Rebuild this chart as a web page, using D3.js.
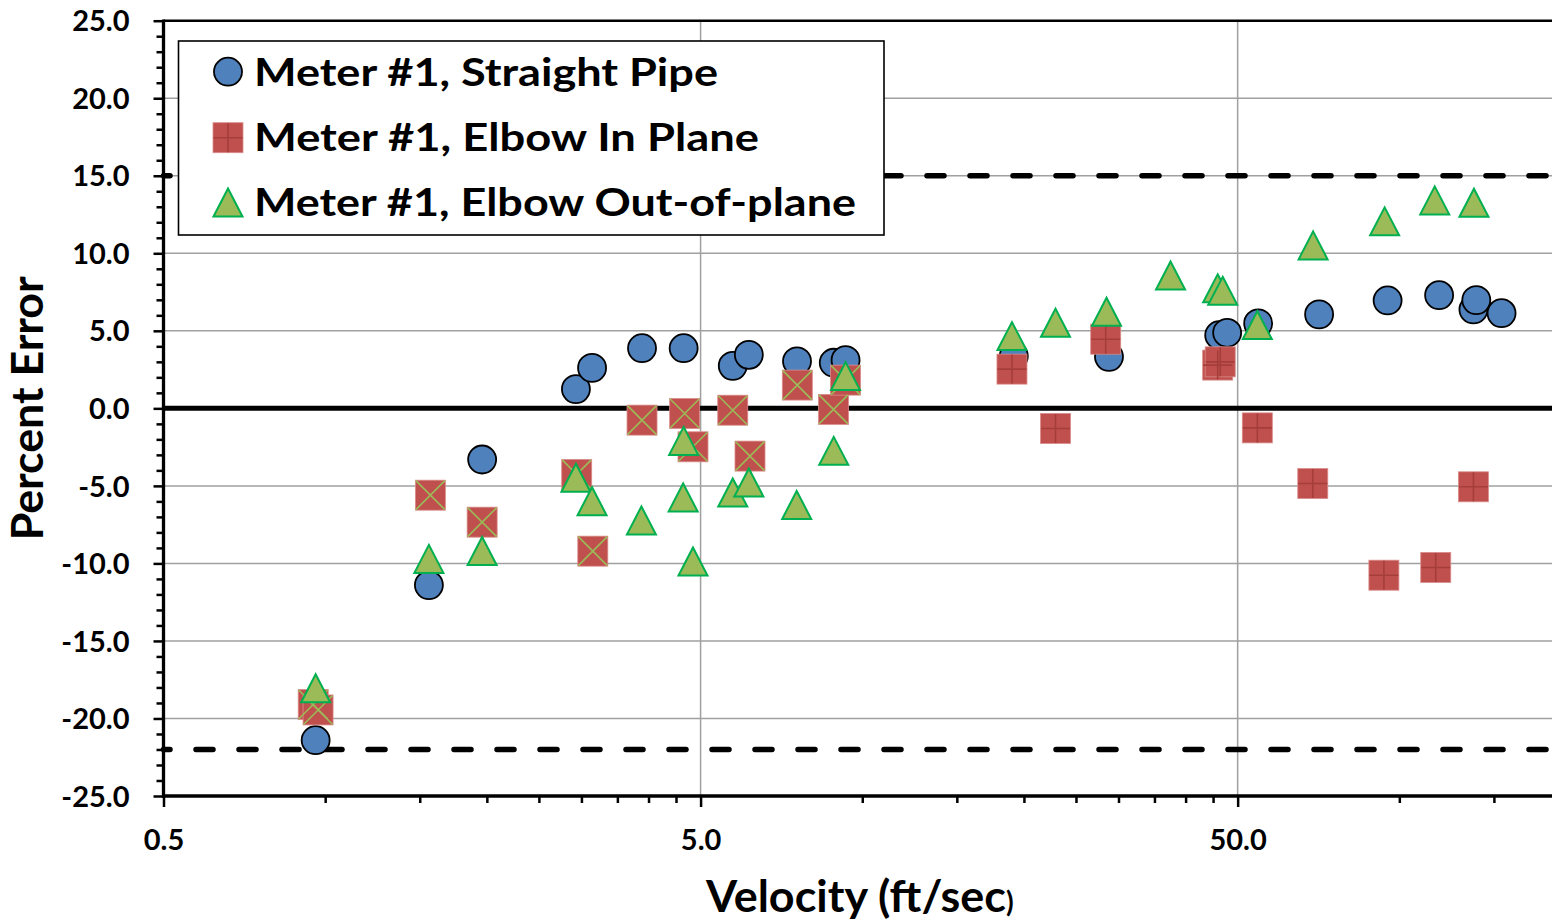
<!DOCTYPE html>
<html>
<head>
<meta charset="utf-8">
<script src="https://cdn.jsdelivr.net/npm/d3@7"></script>
<style>
  html, body { margin: 0; padding: 0; background: #fff; }
  svg { display: block; font-family: Lato, "Open Sans", sans-serif; font-weight: 700; }
</style>
</head>
<body>
<svg id="chart" width="1552" height="921"></svg>
<script>
// ---- Data: velocity (ft/sec) and percent error for each installation ----
const straightPipeVelocity = [0.96, 1.56, 1.96, 2.93, 3.14, 3.89, 4.65, 5.74, 6.15, 7.56, 8.85, 9.31,
                              19.15, 28.8, 46.2, 47.8, 54.6, 70.9, 95.1, 118.6, 137.4, 139.1, 155];
const straightPipeError = [-21.4, -11.4, -3.3, 1.24, 2.61, 3.88, 3.88, 2.74, 3.45, 3.03, 2.94, 3.11,
                           3.37, 3.32, 4.72, 4.87, 5.48, 6.06, 6.96, 7.30, 6.38, 6.98, 6.14];

const inPlaneVelocity = [0.95, 0.97, 1.57, 1.96, 2.94, 3.15, 3.89, 4.67, 4.84, 5.74, 6.18, 7.57, 8.84, 9.31,
                         19.0, 22.9, 28.4, 45.9, 46.4, 54.4, 69.0, 93.6, 116.9, 137.4];
const inPlaneError = [-19.1, -19.45, -5.6, -7.34, -4.26, -9.21, -0.76, -0.33, -2.48, -0.12, -3.08, 1.50, -0.07, 1.82,
                      2.53, -1.30, 4.46, 2.79, 3.0, -1.26, -4.85, -10.76, -10.26, -5.06];

const outOfPlaneVelocity = [0.96, 1.56, 1.96, 2.93, 3.14, 3.88, 4.65, 4.64, 4.84, 5.74, 6.15, 7.55, 8.85, 9.31,
                            19.0, 22.9, 28.5, 37.5, 45.9, 46.9, 54.4, 69.1, 93.9, 116.4, 137.7];
const outOfPlaneError = [-18.05, -9.71, -9.2, -4.48, -5.99, -7.23, -2.10, -5.75, -9.88, -5.43, -4.78, -6.23, -2.74, 2.08,
                         4.66, 5.52, 6.23, 8.57, 7.74, 7.58, 5.37, 10.51, 12.06, 13.41, 13.26];

const seriesNames = ["Meter #1, Straight Pipe", "Meter #1, Elbow In Plane", "Meter #1, Elbow Out-of-plane"];
const yTickValues = [-25, -20, -15, -10, -5, 0, 5, 10, 15, 20, 25];
const xTickValues = [0.5, 5, 50];
const limitLines = [15, -22];
const xTitle = "Velocity (ft/sec";
const yTitle = "Percent Error";

// ---- Layout ----
const W = 1552, H = 921;
const plot = { left: 163.5, top: 20.7, right: 1561, bottom: 796 };
const colors = {
  blue: "#4F81BD", red: "#C0504D", redLine: "#A53E3B",
  green: "#9BBB59", greenEdge: "#00B050", grid: "#A0A0A0"
};
const MS = 30; // marker size

const svg = d3.select("#chart");
svg.append("rect").attr("width", W).attr("height", H).attr("fill", "#fff");

const x = d3.scaleLog().domain([0.5, 200]).range([plot.left, plot.right]);
const y = d3.scaleLinear().domain([-25, 25]).range([plot.bottom, plot.top]);

const zip = (a, b) => a.map((v, i) => ({ v, e: b[i] }));
const straight = zip(straightPipeVelocity, straightPipeError);
const inPlane = zip(inPlaneVelocity, inPlaneError);
const outPlane = zip(outOfPlaneVelocity, outOfPlaneError);

// ---- Gridlines ----
const grid = svg.append("g").attr("stroke", colors.grid).attr("stroke-width", 1.5);
grid.selectAll("line.h").data(yTickValues.filter(v => v !== 0)).join("line")
  .attr("x1", plot.left).attr("x2", plot.right)
  .attr("y1", d => y(d)).attr("y2", d => y(d));
grid.selectAll("line.v").data(xTickValues.filter(v => v > 0.5)).join("line")
  .attr("x1", d => x(d)).attr("x2", d => x(d))
  .attr("y1", plot.top).attr("y2", plot.bottom);

// zero line
svg.append("line")
  .attr("x1", plot.left).attr("x2", plot.right)
  .attr("y1", y(0)).attr("y2", y(0))
  .attr("stroke", "#000").attr("stroke-width", 5);

// acceptance limits
svg.append("g").selectAll("line").data(limitLines).join("line")
  .attr("x1", plot.left).attr("x2", plot.right)
  .attr("y1", d => y(d)).attr("y2", d => y(d))
  .attr("stroke", "#000").attr("stroke-width", 5.5)
  .attr("stroke-linecap", "round")
  .attr("stroke-dasharray", "17,26").attr("stroke-dashoffset", 10.5);

// ---- Axes ----
const fmt = v => (v < 0 ? "-" : "") + Math.abs(v).toFixed(1);
const tickFont = 29;

const yMinor = d3.range(-25, 26, 1).filter(v => v % 5 !== 0);
svg.append("g").attr("transform", `translate(${plot.left},0)`)
  .call(d3.axisLeft(y).tickValues(yMinor).tickSize(7).tickFormat(""))
  .call(g => g.select(".domain").remove())
  .call(g => g.selectAll("line").attr("stroke", "#000").attr("stroke-width", 2.5));
svg.append("g").attr("transform", `translate(${plot.left},0)`)
  .call(d3.axisLeft(y).tickValues(yTickValues).tickSize(10).tickPadding(24).tickFormat(fmt))
  .call(g => g.select(".domain").remove())
  .call(g => g.selectAll("line").attr("stroke", "#000").attr("stroke-width", 2.5))
  .call(g => g.selectAll("text").attr("fill", "#000").attr("dy", "0.35em")
    .attr("font-size", tickFont).attr("font-family", "Lato, sans-serif").attr("font-weight", 700));

const xMinor = [];
xTickValues.forEach(b => { for (let k = 2; k <= 9; k++) if (b * k <= 200) xMinor.push(b * k); });
svg.append("g").attr("transform", `translate(0,${plot.bottom})`)
  .call(d3.axisBottom(x).tickValues(xMinor).tickSize(7).tickFormat(""))
  .call(g => g.select(".domain").remove())
  .call(g => g.selectAll("line").attr("stroke", "#000").attr("stroke-width", 2.5));
svg.append("g").attr("transform", `translate(0,${plot.bottom})`)
  .call(d3.axisBottom(x).tickValues(xTickValues).tickSize(11).tickPadding(22).tickFormat(d => d.toFixed(1)))
  .call(g => g.select(".domain").remove())
  .call(g => g.selectAll("line").attr("stroke", "#000").attr("stroke-width", 2.5))
  .call(g => g.selectAll("text").attr("fill", "#000").attr("dy", "0.71em")
    .attr("font-size", tickFont).attr("font-family", "Lato, sans-serif").attr("font-weight", 700));

// plot frame and axis lines
svg.append("line").attr("x1", plot.left).attr("x2", W).attr("y1", plot.top).attr("y2", plot.top)
  .attr("stroke", "#000").attr("stroke-width", 2.6);
svg.append("line").attr("x1", plot.left).attr("x2", plot.left).attr("y1", plot.top - 1.3).attr("y2", plot.bottom + 1.5)
  .attr("stroke", "#000").attr("stroke-width", 3.3);
svg.append("line").attr("x1", plot.left - 1.5).attr("x2", W).attr("y1", plot.bottom).attr("y2", plot.bottom)
  .attr("stroke", "#000").attr("stroke-width", 3.3);

// ---- Marker drawing helpers ----
function drawCircle(g, cx, cy) {
  g.append("circle").attr("cx", cx).attr("cy", cy).attr("r", MS / 2 - 1)
    .attr("fill", colors.blue).attr("stroke", "#000").attr("stroke-width", 1.8);
}
function drawSquare(g, cx, cy) {
  g.append("rect").attr("x", cx - MS / 2).attr("y", cy - MS / 2)
    .attr("width", MS).attr("height", MS)
    .attr("fill", colors.red).attr("stroke", "#D98C8A").attr("stroke-width", 0.8);
}
function drawPlus(g, cx, cy) {
  const h = MS / 2 - 0.5;
  g.append("path").attr("d", `M${cx - h},${cy}H${cx + h}M${cx},${cy - h}V${cy + h}`)
    .attr("stroke", colors.redLine).attr("stroke-width", 1.6).attr("fill", "none");
}
function drawCross(g, cx, cy) {
  const h = MS / 2 - 0.5;
  g.append("path").attr("d", `M${cx - h},${cy - h}L${cx + h},${cy + h}M${cx - h},${cy + h}L${cx + h},${cy - h}`)
    .attr("stroke", colors.green).attr("stroke-width", 1.6).attr("fill", "none");
}
function drawTriangle(g, cx, cy) {
  const w = MS / 2 - 0.5, h = MS / 2 - 1;
  g.append("path").attr("d", `M${cx},${cy - h}L${cx + w},${cy + h}L${cx - w},${cy + h}Z`)
    .attr("fill", colors.green).attr("stroke", colors.greenEdge).attr("stroke-width", 2)
    .attr("stroke-linejoin", "miter");
}

// ---- Series ----
const gCirc = svg.append("g");
straight.forEach(d => drawCircle(gCirc, x(d.v), y(d.e)));

const gSq = svg.append("g");
inPlane.forEach(d => drawSquare(gSq, x(d.v), y(d.e)));
const gSqMark = svg.append("g");
inPlane.forEach(d => (d.v < 12 ? drawCross : drawPlus)(gSqMark, x(d.v), y(d.e)));

const gTri = svg.append("g");
outPlane.forEach(d => drawTriangle(gTri, x(d.v), y(d.e)));

// ---- Legend ----
const legend = svg.append("g");
legend.append("rect").attr("x", 178.5).attr("y", 41).attr("width", 705.5).attr("height", 194)
  .attr("fill", "#fff").attr("stroke", "#000").attr("stroke-width", 1.6);
const legendRows = [
  { name: seriesNames[0], cy: 71.7, base: 86, len: 464, draw: (g, cx, cy) => drawCircle(g, cx, cy) },
  { name: seriesNames[1], cy: 137.7, base: 151, len: 505, draw: (g, cx, cy) => { drawSquare(g, cx, cy); drawPlus(g, cx, cy); } },
  { name: seriesNames[2], cy: 202.5, base: 216, len: 602, draw: (g, cx, cy) => drawTriangle(g, cx, cy) }
];
legendRows.forEach(r => {
  r.draw(legend, 228, r.cy);
  legend.append("text").attr("x", 254).attr("y", r.base)
    .attr("font-size", 39).attr("fill", "#000")
    .attr("textLength", r.len).attr("lengthAdjust", "spacingAndGlyphs")
    .text(r.name);
});

// ---- Axis titles ----
const xt = svg.append("text").attr("x", 706).attr("y", 912).attr("fill", "#000");
xt.append("tspan").attr("font-size", 44).attr("textLength", 300).attr("lengthAdjust", "spacingAndGlyphs").text(xTitle);
xt.append("tspan").attr("font-size", 28).text(")");

svg.append("text")
  .attr("transform", `translate(43,${y(0)}) rotate(-90)`)
  .attr("text-anchor", "middle").attr("font-size", 43).attr("fill", "#000")
  .attr("textLength", 264).attr("lengthAdjust", "spacingAndGlyphs")
  .text(yTitle);
</script>
</body>
</html>
